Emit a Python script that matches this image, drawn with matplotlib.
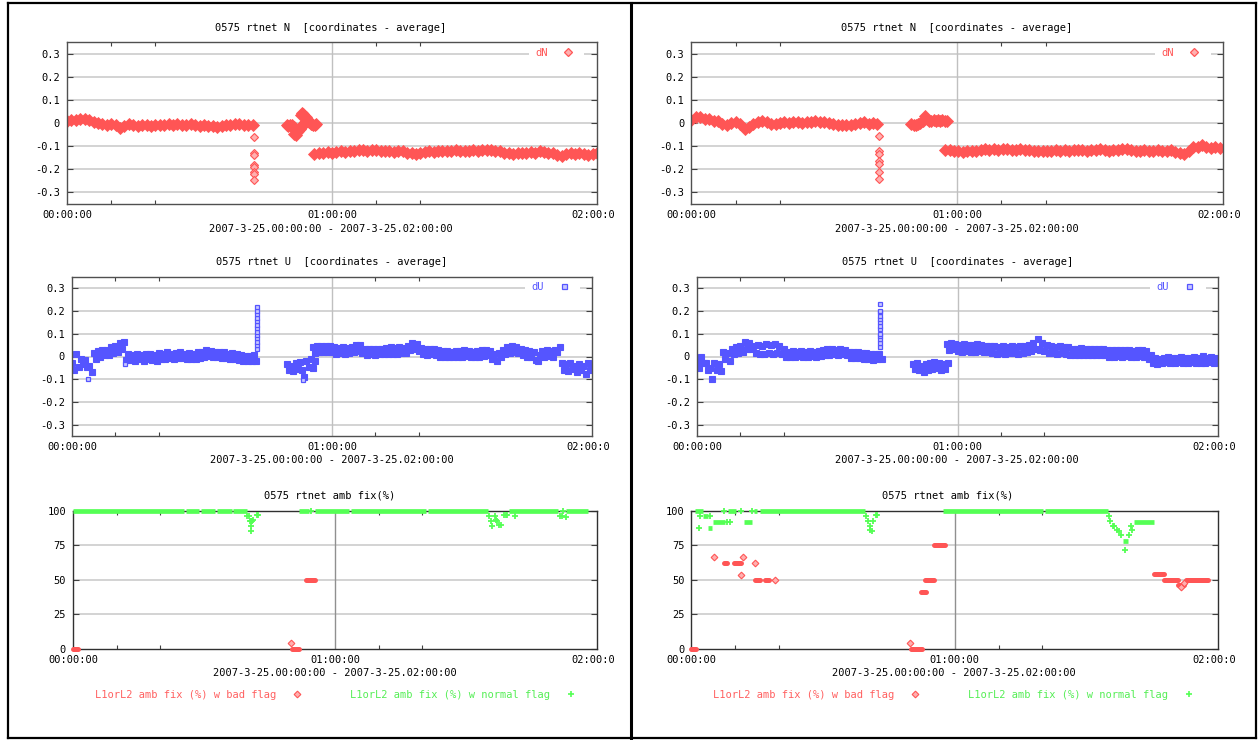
import numpy as np
import matplotlib
matplotlib.use("Agg")
import matplotlib.pyplot as plt
from matplotlib.lines import Line2D
from matplotlib.transforms import ScaledTranslation

# ------------------------------------------------------------------ data
# time in minutes after 2007-3-25 00:00:00
xtick_pos = [0, 60, 120]
xtick_labels = ["00:00:00", "01:00:00", "02:00:0"]
xminor_pos = [10, 20, 70, 80]
coord_yticks = [0.3, 0.2, 0.1, 0.0, -0.1, -0.2, -0.3]
coord_ytick_labels = ["0.3", "0.2", "0.1", "0", "-0.1", "-0.2", "-0.3"]
amb_yticks = [0, 25, 50, 75, 100]
amb_ytick_labels = ["0", "25", "50", "75", "100"]

title_n = "0575 rtnet N  [coordinates - average]"
title_u = "0575 rtnet U  [coordinates - average]"
title_amb = "0575 rtnet amb fix(%)"
xlabel_text = "2007-3-25.00:00:00 - 2007-3-25.02:00:00"
label_bad = "L1orL2 amb fix (%) w bad flag"
label_norm = "L1orL2 amb fix (%) w normal flag"

# ---- left panel, dN
nl_a_start, nl_a_step = 0.0, 1.0
nl_a = [0.008, 0.015, 0.012, 0.018, 0.020, 0.015, 0.005, 0.000, -0.005, -0.008,
        -0.005, -0.010, -0.022, -0.012, -0.005, -0.008, -0.012, -0.010, -0.008, -0.012,
        -0.008, -0.006, -0.008, -0.005, -0.007, -0.004, -0.006, -0.008, -0.005, -0.010,
        -0.012, -0.010, -0.014, -0.012, -0.015, -0.012, -0.010, -0.006, -0.004, -0.002,
        -0.008, -0.006, -0.008]
nl_spike_t = 42.3
nl_spike = [-0.06, -0.13, -0.14, -0.18, -0.19, -0.21, -0.22, -0.245]
nl_b_t = [49.8, 50.1, 50.4, 50.7, 51.0, 51.3,
          51.5, 51.8, 52.1, 52.4, 52.7, 53.0, 53.3, 53.6, 53.9,
          52.9, 53.1, 53.4, 53.7, 54.0, 54.3, 54.6, 54.9, 55.2, 55.5, 55.8, 56.1, 56.4]
nl_b = [-0.008, -0.012, -0.010, -0.014, -0.010, -0.015,
        -0.048, -0.052, -0.040, -0.032, -0.025, -0.018, -0.010, -0.004, 0.004,
        0.035, 0.042, 0.040, 0.032, 0.025, 0.018, 0.010, 0.004, -0.002, -0.004, -0.006,
        -0.008, -0.005]
nl_c_start, nl_c_step = 56.0, 1.0
nl_c = [-0.135, -0.130, -0.128, -0.125, -0.128, -0.125, -0.122, -0.125, -0.120, -0.122,
        -0.118, -0.115, -0.120, -0.118, -0.115, -0.120, -0.122, -0.120, -0.125, -0.122,
        -0.120, -0.128, -0.130, -0.132, -0.128, -0.125, -0.122, -0.125, -0.120, -0.122,
        -0.120, -0.122, -0.118, -0.120, -0.122, -0.120, -0.118, -0.120, -0.115, -0.118,
        -0.115, -0.120, -0.122, -0.128, -0.130, -0.132, -0.128, -0.130, -0.128, -0.125,
        -0.128, -0.122, -0.125, -0.128, -0.130, -0.138, -0.142, -0.135, -0.130, -0.132,
        -0.130, -0.135, -0.138, -0.132, -0.130]

# ---- right panel, dN
nr_a_start, nr_a_step = 0.0, 1.0
nr_a = [0.015, 0.028, 0.025, 0.018, 0.020, 0.010, 0.008, -0.005, -0.008, 0.000,
        0.005, -0.002, -0.025, -0.015, -0.002, 0.005, 0.008, 0.003, -0.005, -0.002,
        0.002, 0.005, 0.000, 0.003, 0.005, 0.002, 0.004, 0.006, 0.008, 0.006,
        0.004, 0.000, -0.004, -0.008, -0.010, -0.008, -0.006, -0.004, 0.000, 0.003,
        -0.002, 0.000, -0.003]
nr_spike_t = 42.3
nr_spike = [-0.055, -0.12, -0.135, -0.165, -0.175, -0.21, -0.24]
nr_b_start, nr_b_step = 49.7, 0.5
nr_b = [-0.005, -0.008, -0.010, -0.005, 0.000, 0.010, 0.030, 0.020, 0.010, 0.008,
        0.012, 0.010, 0.015, 0.010, 0.012, 0.008, 0.010]
nr_c_start, nr_c_step = 57.3, 1.0
nr_c = [-0.115, -0.118, -0.122, -0.120, -0.125, -0.122, -0.120, -0.122, -0.115, -0.112,
        -0.118, -0.110, -0.115, -0.112, -0.110, -0.118, -0.115, -0.112, -0.115, -0.118,
        -0.120, -0.122, -0.120, -0.122, -0.120, -0.118, -0.120, -0.118, -0.120, -0.118,
        -0.115, -0.118, -0.120, -0.115, -0.118, -0.112, -0.115, -0.120, -0.118, -0.115,
        -0.110, -0.112, -0.115, -0.120, -0.122, -0.118, -0.120, -0.122, -0.118, -0.120,
        -0.122, -0.118, -0.125, -0.128, -0.132, -0.120, -0.105, -0.102, -0.095, -0.105,
        -0.108, -0.102, -0.108]

# ---- left panel, dU
ul_a_start, ul_a_step = 0.0, 0.5
ul_a = [-0.030, -0.060, 0.010, -0.045, -0.010, -0.035, -0.015, -0.045, -0.040, -0.070,
        0.015, -0.010, 0.025, 0.000, 0.030, 0.005, 0.030, 0.005, 0.040, 0.015,
        0.045, 0.020, 0.060, 0.035, 0.065, -0.015, 0.010, -0.015, 0.008, -0.020,
        0.012, -0.012, 0.008, -0.018, 0.012, -0.012, 0.010, -0.016, 0.008, -0.018,
        0.015, -0.010, 0.012, -0.012, 0.018, -0.008, 0.012, -0.012, 0.015, -0.008,
        0.018, -0.008, 0.012, -0.012, 0.015, -0.010, 0.012, -0.012, 0.018, -0.008,
        0.022, -0.002, 0.028, 0.002, 0.025, 0.000, 0.022, -0.002, 0.020, -0.005,
        0.018, -0.008, 0.012, -0.012, 0.015, -0.010, 0.010, -0.015, 0.008, -0.018,
        0.004, -0.020, 0.002, -0.022, 0.008, -0.018]
ul_out_t = [3.8, 53.4, 12.3]
ul_out = [-0.100, -0.105, -0.035]
ul_spike_t = 42.6
ul_spike = [0.035, 0.05, 0.065, 0.08, 0.095, 0.11, 0.125, 0.14, 0.155, 0.17, 0.185, 0.20, 0.22]
ul_b_start, ul_b_step = 49.6, 0.5
ul_b = [-0.035, -0.060, -0.040, -0.065, -0.030, -0.055, -0.025, -0.060, -0.090, -0.020,
        -0.045, -0.010, -0.050, -0.020]
ul_c_start, ul_c_step = 55.5, 0.5
ul_c = [0.040, 0.015, 0.045, 0.020, 0.045, 0.020, 0.048, 0.018, 0.045, 0.020,
        0.040, 0.012, 0.038, 0.015, 0.040, 0.012, 0.038, 0.015, 0.040, 0.020,
        0.050, 0.025, 0.050, 0.015, 0.035, 0.008, 0.035, 0.010, 0.032, 0.008,
        0.035, 0.010, 0.035, 0.012, 0.038, 0.012, 0.040, 0.012, 0.038, 0.012,
        0.040, 0.015, 0.038, 0.015, 0.045, 0.030, 0.060, 0.035, 0.055, 0.025,
        0.038, 0.010, 0.035, 0.008, 0.035, 0.010, 0.032, 0.008, 0.030, 0.000,
        0.025, 0.000, 0.025, -0.002, 0.022, 0.000, 0.025, 0.000, 0.025, 0.000,
        0.028, 0.002, 0.025, -0.002, 0.022, 0.000, 0.025, 0.000, 0.028, 0.002,
        0.030, 0.005, 0.025, -0.010, 0.010, -0.020, 0.015, 0.000, 0.030, 0.010,
        0.040, 0.015, 0.045, 0.020, 0.042, 0.015, 0.035, 0.005, 0.028, 0.000,
        0.025, -0.002, 0.020, -0.015, -0.020, 0.005, 0.025, 0.000, 0.028, 0.002,
        0.025, 0.000, 0.030, 0.020, 0.040, -0.030, -0.060, -0.035, -0.065, -0.030,
        -0.055, -0.040, -0.070, -0.035, -0.060, -0.040, -0.075, -0.030, -0.060, -0.040]

# ---- right panel, dU
ur_a_start, ur_a_step = 0.0, 0.5
ur_a = [-0.025, -0.050, 0.000, -0.030, -0.030, -0.060, -0.050, -0.100, -0.030, -0.060,
        -0.035, -0.065, 0.020, -0.010, 0.015, -0.020, 0.035, 0.010, 0.040, 0.015,
        0.045, 0.020, 0.062, 0.035, 0.060, 0.035, 0.045, 0.015, 0.050, 0.010,
        0.045, 0.012, 0.055, 0.015, 0.050, 0.010, 0.055, 0.015, 0.045, 0.010,
        0.035, 0.000, 0.022, -0.002, 0.025, 0.000, 0.022, 0.002, 0.025, 0.000,
        0.022, 0.000, 0.025, 0.002, 0.022, 0.000, 0.025, 0.002, 0.028, 0.005,
        0.032, 0.008, 0.035, 0.010, 0.030, 0.008, 0.035, 0.010, 0.030, 0.005,
        0.022, -0.005, 0.018, -0.008, 0.020, -0.005, 0.015, -0.010, 0.015, -0.012,
        0.010, -0.015, 0.010, -0.012, 0.012, -0.010]
ur_spike_t = 42.2
ur_spike = [0.04, 0.06, 0.075, 0.09, 0.10, 0.12, 0.135, 0.15, 0.165, 0.18, 0.195, 0.20, 0.23]
ur_b_start, ur_b_step = 49.7, 0.5
ur_b = [-0.035, -0.055, -0.030, -0.060, -0.040, -0.070, -0.035, -0.060, -0.030, -0.055,
        -0.025, -0.050, -0.030, -0.060, -0.035, -0.055, -0.030]
ur_c_start, ur_c_step = 57.5, 0.5
ur_c = [0.055, 0.030, 0.060, 0.035, 0.055, 0.025, 0.050, 0.020, 0.055, 0.025,
        0.050, 0.020, 0.050, 0.020, 0.055, 0.025, 0.050, 0.020, 0.048, 0.018,
        0.045, 0.015, 0.045, 0.012, 0.042, 0.015, 0.045, 0.012, 0.042, 0.015,
        0.045, 0.015, 0.042, 0.012, 0.045, 0.015, 0.045, 0.018, 0.050, 0.025,
        0.060, 0.035, 0.075, 0.030, 0.060, 0.025, 0.050, 0.015, 0.045, 0.015,
        0.042, 0.012, 0.045, 0.015, 0.042, 0.012, 0.040, 0.008, 0.035, 0.005,
        0.035, 0.008, 0.038, 0.005, 0.035, 0.008, 0.035, 0.005, 0.032, 0.008,
        0.035, 0.005, 0.035, 0.005, 0.030, 0.000, 0.028, 0.000, 0.030, 0.002,
        0.028, 0.000, 0.030, 0.002, 0.028, -0.002, 0.025, 0.000, 0.030, 0.002,
        0.030, 0.000, 0.025, -0.010, 0.005, -0.030, -0.005, -0.035, -0.010, -0.030,
        -0.005, -0.025, 0.000, -0.030, -0.005, -0.030, -0.005, -0.025, 0.000, -0.030,
        -0.005, -0.030, -0.005, -0.025, 0.000, -0.030, -0.005, -0.028, 0.002, -0.030,
        -0.005, -0.025, 0.000, -0.030, -0.005, -0.020]

# ---- left panel, ambiguity fixing
ambl_norm_run_s = [0.0, 25.8, 29.2, 32.9, 36.7, 51.7, 55.5, 63.6, 81.2, 99.9, 113.0]
ambl_norm_run_e = [25.5, 28.9, 32.6, 36.4, 39.8, 54.1, 63.3, 80.9, 95.0, 111.1, 118.0]
ambl_norm_run_v = [100, 100, 100, 100, 100, 100, 100, 100, 100, 100, 100]
ambl_norm_pt_t = [39.9, 40.2, 40.5, 40.8, 41.0, 41.3, 40.8, 40.8, 42.1, 42.4, 54.5,
                  95.3, 95.8, 96.0, 96.6, 96.9, 97.2, 97.6, 98.1, 98.7, 99.1, 99.4,
                  101.3, 111.6, 112.0, 112.8, 112.3]
ambl_norm_pt_v = [96.4, 96.4, 92.8, 92.8, 92.8, 93.5, 88.9, 85.5, 97.1, 97.1, 100,
                  96.4, 92.3, 88.9, 96.4, 93.3, 92.8, 89.6, 89.6, 97.1, 97.1, 97.1,
                  96.4, 96.4, 96.4, 95.4, 100]
ambl_bad_run_s = [0.0, 50.2, 53.4]
ambl_bad_run_e = [1.2, 51.8, 55.5]
ambl_bad_run_v = [0, 0, 50]
ambl_bad_pt_t = [50.0]
ambl_bad_pt_v = [4.6]

# ---- right panel, ambiguity fixing
ambr_norm_run_s = [0.9, 8.4, 14.2, 15.7, 57.3, 80.5, 2.6, 3.8, 5.0, 12.0, 98.4, 100.8]
ambr_norm_run_e = [2.6, 10.2, 15.0, 39.5, 80.2, 94.9, 3.8, 4.8, 7.6, 13.9, 99.4, 105.4]
ambr_norm_run_v = [100, 100, 100, 100, 100, 100, 96.4, 87.7, 91.6, 91.6, 78.3, 91.6]
ambr_norm_pt_t = [1.8, 2.0, 4.3, 8.0, 8.9, 7.5, 11.4, 13.7,
                  39.8, 40.2, 40.6, 40.7, 41.2, 41.4, 42.0, 42.3,
                  95.1, 95.4, 96.0, 96.4, 97.0, 97.4, 97.8, 98.9, 99.8, 100.1, 100.5]
ambr_norm_pt_v = [87.7, 96.4, 96.4, 91.6, 91.6, 100, 100, 100,
                  96.4, 92.8, 88.9, 86.0, 85.5, 92.8, 97.1, 97.1,
                  96.4, 92.8, 88.9, 88.9, 86.0, 85.5, 82.4, 71.6, 82.4, 88.9, 86.0]
ambr_bad_run_s = [0.0, 7.5, 9.8, 14.6, 16.7, 50.0, 52.3, 53.2, 55.3, 105.4, 107.7, 110.9, 112.7]
ambr_bad_run_e = [1.1, 8.1, 11.2, 15.7, 17.6, 52.6, 53.5, 55.3, 57.8, 107.7, 110.9, 112.3, 117.7]
ambr_bad_run_v = [0, 62.4, 62.4, 50.1, 50.1, 0, 41.2, 50, 75, 54.2, 50, 46, 50]
ambr_bad_pt_t = [5.2, 11.8, 11.3, 14.5, 19.1, 49.9, 111.6, 112.3]
ambr_bad_pt_v = [66.3, 66.3, 53.7, 62.4, 50.1, 4.6, 45.0, 47.5]

# ------------------------------------------------------------------ style
W, H, DPI = 1258, 740, 100
RED = "#ff5555"
BLUE = "#5555ff"
GREEN = "#55ff55"
FONT = "DejaVu Sans Mono"
FS = 7.5
plt.rcParams["font.family"] = [FONT]
plt.rcParams["font.size"] = FS

fig = plt.figure(figsize=(W / DPI, H / DPI), dpi=DPI)


def rect(x0, x1, y0, y1):
    return [x0 / W, 1 - y1 / H, (x1 - x0) / W, (y1 - y0) / H]


def fx(x):
    return x / W


def fy(y):
    return 1 - y / H


def seg_times(start, step, vals):
    return start + step * np.arange(len(vals))


def style_axes(ax, yticks, ylabels, ylim, vline_color, grid_color):
    ax.set_xlim(0, 120)
    ax.set_ylim(*ylim)
    ax.set_yticks(yticks)
    ax.set_yticklabels(ylabels)
    ax.set_xticks(xtick_pos)
    ax.set_xticklabels(xtick_labels)
    ax.set_xticks(xminor_pos, minor=True)
    ax.tick_params(axis="y", direction="in", length=4, width=0.8, left=True, right=True,
                   color="#404040", pad=5, labelsize=FS)
    ax.tick_params(axis="x", which="major", length=0, pad=4.5, labelsize=FS)
    ax.tick_params(axis="x", which="minor", direction="in", length=3, width=0.8,
                   top=True, bottom=True, color="#404040")
    for sp in ax.spines.values():
        sp.set_color("#505050")
        sp.set_linewidth(1.0)
        sp.set_zorder(8)
    for yv in yticks:
        if ylim[0] < yv < ylim[1]:
            ax.axhline(yv, color=grid_color, lw=1.1, zorder=0.5)
    ax.axvline(60, color=vline_color, lw=1.0, zorder=0.6)
    labs = ax.get_xticklabels()
    labs[-1].set_ha("left")
    labs[-1].set_transform(labs[-1].get_transform() +
                           ScaledTranslation(-25.5 / DPI, 0, fig.dpi_scale_trans))


def plot_n(ax, segs, spike_t, spike):
    style_axes(ax, coord_yticks, coord_ytick_labels, (-0.35, 0.35), "#c0c0c0", "#c8c8c8")
    for t, v in segs:
        ax.plot(t, v, ls="none", marker="D", ms=5.8, mfc=RED, mec=RED,
                mew=0.6, zorder=3)
    ax.plot(np.full(len(spike), spike_t), spike, ls="none", marker="D", ms=3.6,
            mfc="#ffb0b0", mec=RED, mew=0.8, zorder=3)


def plot_u(ax, segs, spike_t, spike, out_t=None, out_v=None):
    style_axes(ax, coord_yticks, coord_ytick_labels, (-0.35, 0.35), "#c0c0c0", "#c8c8c8")
    for t, v in segs:
        ax.plot(t, v, ls="none", marker="s", ms=5.0, mfc=BLUE, mec=BLUE, mew=0.8,
                zorder=3)
    ax.plot(np.full(len(spike), spike_t), spike, ls="none", marker="s", ms=3.3,
            mfc="#c8c8ff", mec=BLUE, mew=0.9, zorder=3)
    if out_t is not None:
        ax.plot(out_t, out_v, ls="none", marker="s", ms=3.3, mfc="#c8c8ff", mec=BLUE,
                mew=0.9, zorder=3)


def plot_amb(ax, nrs, nre, nrv, npt, npv, brs, bre, brv, bpt, bpv):
    style_axes(ax, amb_yticks, amb_ytick_labels, (0, 100), "#909090", "#c8c8c8")
    ax.hlines(nrv, nrs, nre, colors=GREEN, lw=3.4, capstyle="butt", zorder=3, clip_on=False)
    ax.plot(npt, npv, ls="none", marker="+", ms=5, mew=1.3, color=GREEN, zorder=3,
            clip_on=False)
    ax.hlines(brv, brs, bre, colors=RED, lw=3.6, capstyle="round", zorder=4, clip_on=False)
    ax.plot(bpt, bpv, ls="none", marker="D", ms=3.4, mfc="#ffb0b0", mec=RED, mew=0.8,
            zorder=4, clip_on=False)
    for sp in ax.spines.values():
        sp.set_color("#303030")
        sp.set_zorder(2.5)


def add_key(ax, label, marker, mfc, color, mx, my):
    h = Line2D([], [], ls="none", marker=marker, ms=3.6, mfc=mfc, mec=color, mew=0.9)
    leg = ax.legend([h], [label], loc="center right",
                    bbox_to_anchor=(fx(mx + 16.5), fy(my)), bbox_transform=fig.transFigure,
                    markerfirst=False, frameon=True, facecolor="white", edgecolor="white",
                    fancybox=False, framealpha=1, borderpad=0.55, borderaxespad=0,
                    handletextpad=1.0, handlelength=2.0, labelcolor=color,
                    prop={"family": FONT, "size": FS})
    leg.get_frame().set_linewidth(0)
    leg.set_zorder(2.2)


def add_bottom_key(text_x, y):
    hb = Line2D([], [], ls="none", marker="D", ms=3.4, mfc="#ffb0b0", mec=RED, mew=0.8)
    hn = Line2D([], [], ls="none", marker="+", ms=5, mew=1.2, color=GREEN)
    leg = fig.legend([hb, hn], [label_bad, label_norm], loc="center left",
                     bbox_to_anchor=(fx(text_x), fy(y)), bbox_transform=fig.transFigure,
                     ncol=2, markerfirst=False, frameon=False, borderpad=0,
                     borderaxespad=0, handletextpad=1.0, handlelength=2.0,
                     columnspacing=4.1, prop={"family": FONT, "size": FS})
    texts = leg.get_texts()
    texts[0].set_color("#ff6060")
    texts[1].set_color("#55ee55")


# ------------------------------------------------------------------ panels
panels = [
    dict(n_rect=(67, 597, 42.3, 204), u_rect=(72, 592, 277, 436), a_rect=(73, 597, 510.7, 649),
         n_title=331, u_title=332, a_title=330, n_xl=331, u_xl=332, a_xl=335,
         n_key=568, u_key=564, bottom_key=95,
         n_segs=[(seg_times(nl_a_start, nl_a_step, nl_a), nl_a), (nl_b_t, nl_b),
                 (seg_times(nl_c_start, nl_c_step, nl_c), nl_c)],
         n_spike=(nl_spike_t, nl_spike),
         u_segs=[(seg_times(ul_a_start, ul_a_step, ul_a), ul_a),
                 (seg_times(ul_b_start, ul_b_step, ul_b), ul_b),
                 (seg_times(ul_c_start, ul_c_step, ul_c), ul_c)],
         u_spike=(ul_spike_t, ul_spike), u_out=(ul_out_t, ul_out),
         amb=(ambl_norm_run_s, ambl_norm_run_e, ambl_norm_run_v, ambl_norm_pt_t, ambl_norm_pt_v,
              ambl_bad_run_s, ambl_bad_run_e, ambl_bad_run_v, ambl_bad_pt_t, ambl_bad_pt_v)),
    dict(n_rect=(691.4, 1222.8, 42.3, 204), u_rect=(697, 1218, 277, 436),
         a_rect=(691.4, 1218, 510.7, 649),
         n_title=957, u_title=957.5, a_title=948, n_xl=956.7, u_xl=956.7, a_xl=954,
         n_key=1194, u_key=1189, bottom_key=713,
         n_segs=[(seg_times(nr_a_start, nr_a_step, nr_a), nr_a),
                 (seg_times(nr_b_start, nr_b_step, nr_b), nr_b),
                 (seg_times(nr_c_start, nr_c_step, nr_c), nr_c)],
         n_spike=(nr_spike_t, nr_spike),
         u_segs=[(seg_times(ur_a_start, ur_a_step, ur_a), ur_a),
                 (seg_times(ur_b_start, ur_b_step, ur_b), ur_b),
                 (seg_times(ur_c_start, ur_c_step, ur_c), ur_c)],
         u_spike=(ur_spike_t, ur_spike), u_out=(None, None),
         amb=(ambr_norm_run_s, ambr_norm_run_e, ambr_norm_run_v, ambr_norm_pt_t, ambr_norm_pt_v,
              ambr_bad_run_s, ambr_bad_run_e, ambr_bad_run_v, ambr_bad_pt_t, ambr_bad_pt_v)),
]

for p in panels:
    axn = fig.add_axes(rect(*p["n_rect"]))
    plot_n(axn, p["n_segs"], *p["n_spike"])
    add_key(axn, "dN", "D", "#ffb0b0", RED, p["n_key"], 52.7)
    fig.text(fx(p["n_title"]), fy(27.7), title_n, ha="center", va="center", fontsize=FS)
    fig.text(fx(p["n_xl"]), fy(229), xlabel_text, ha="center", va="center", fontsize=FS)

    axu = fig.add_axes(rect(*p["u_rect"]))
    plot_u(axu, p["u_segs"], *p["u_spike"], *p["u_out"])
    add_key(axu, "dU", "s", "#c8c8ff", BLUE, p["u_key"], 286.7)
    fig.text(fx(p["u_title"]), fy(262.3), title_u, ha="center", va="center", fontsize=FS)
    fig.text(fx(p["u_xl"]), fy(460), xlabel_text, ha="center", va="center", fontsize=FS)

    axa = fig.add_axes(rect(*p["a_rect"]))
    plot_amb(axa, *p["amb"])
    fig.text(fx(p["a_title"]), fy(495.3), title_amb, ha="center", va="center", fontsize=FS)
    fig.text(fx(p["a_xl"]), fy(673.5), xlabel_text, ha="center", va="center", fontsize=FS)
    add_bottom_key(p["bottom_key"], 694.5)

# ------------------------------------------------------------------ frames
frame_kw = dict(color="black", transform=fig.transFigure, zorder=10)
for xv, lw in [(7.5, 1.6), (631, 2.2), (1255.5, 1.6)]:
    fig.add_artist(Line2D([fx(xv), fx(xv)], [fy(3), fy(737.5)], lw=lw, **frame_kw))
for yv in [3, 737.5]:
    fig.add_artist(Line2D([fx(7.5), fx(1255.5)], [fy(yv), fy(yv)], lw=1.6, **frame_kw))

fig.savefig("out.png", dpi=DPI, facecolor="white")
